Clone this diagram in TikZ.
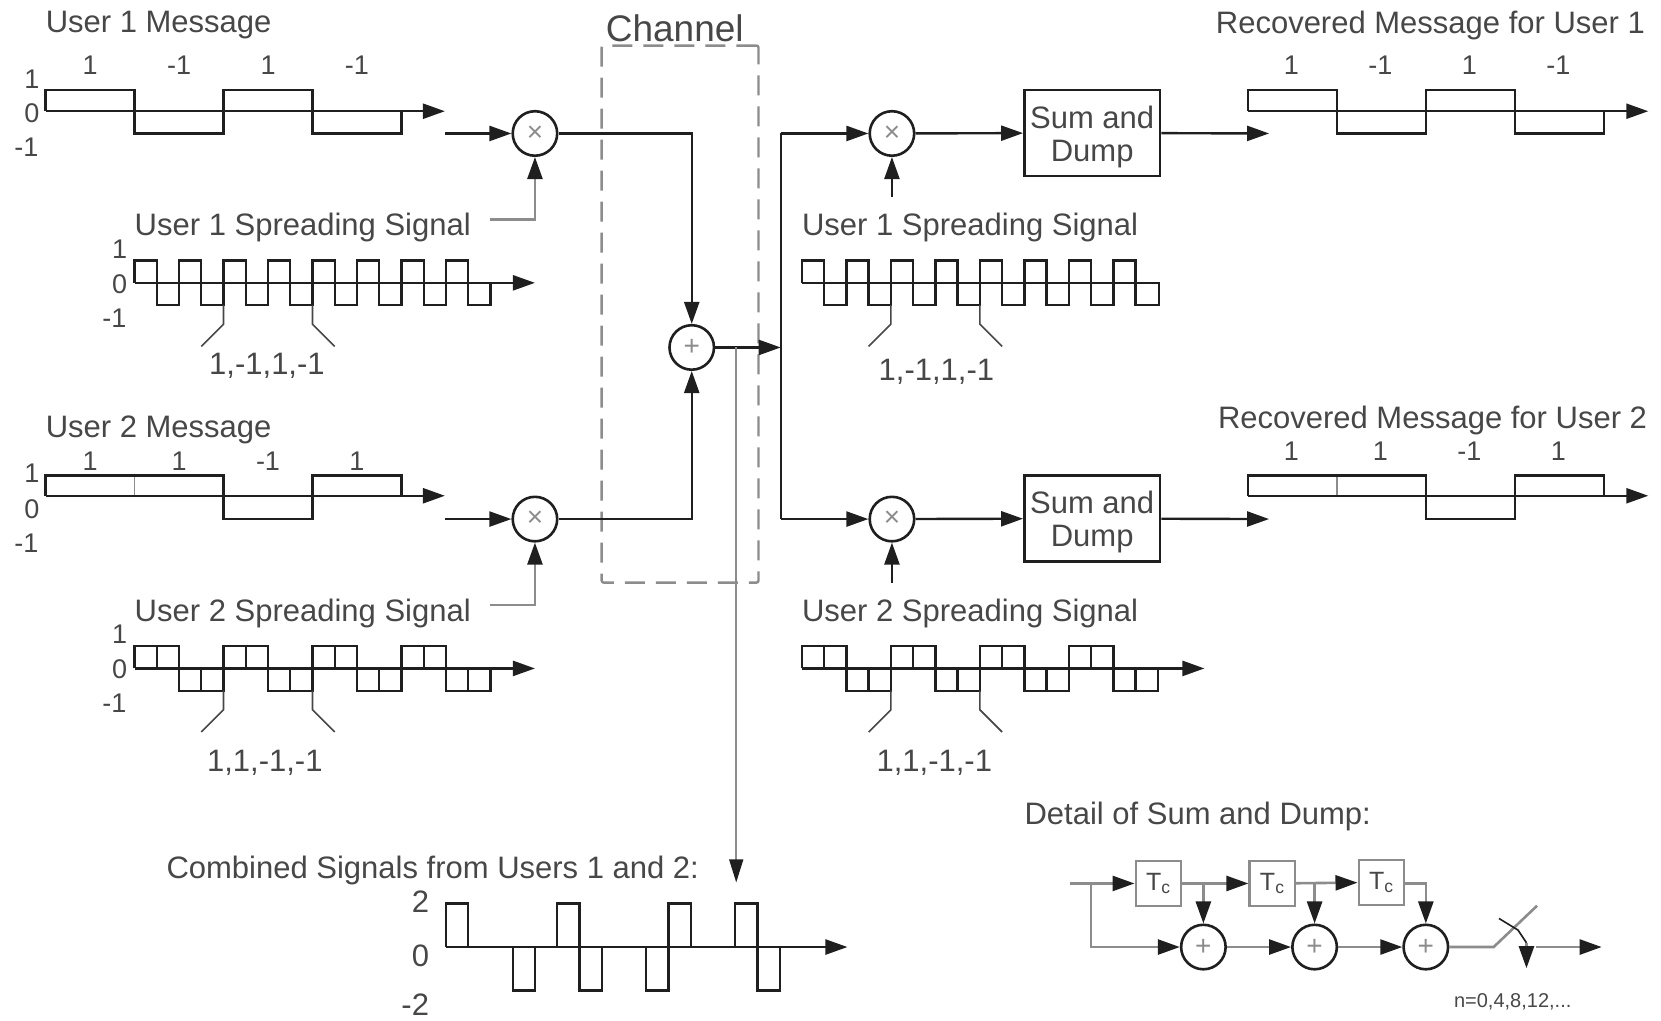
\documentclass[tikz,border=0pt]{standalone}
\usepackage{fontspec}
\setmainfont{Liberation Sans}
\usetikzlibrary{arrows.meta,calc}
\definecolor{ink}{gray}{0.12}
\definecolor{inktext}{gray}{0.28}
\definecolor{soft}{gray}{0.55}

\begin{document}
\begin{tikzpicture}[
    x=1.0593pt, y=-1.0593pt,
    txt/.style={font=\fontsize{31}{35}\selectfont, text=inktext, inner sep=0pt},
    title/.style={txt, anchor=west, yshift=-3pt},
    titler/.style={txt, anchor=east, yshift=-3pt},
    bits/.style={txt, yshift=-2pt},
    tick/.style={txt, font=\fontsize{27}{30}\selectfont},
    mixer/.style={circle, draw=ink, line width=2.6pt, fill=white, minimum size=44.5pt, inner sep=0pt, text=soft, font=\fontsize{28}{28}\selectfont},
    sumbox/.style={rectangle, draw=ink, line width=2.6pt, minimum width=135.6pt, minimum height=85.8pt, align=center, inner sep=0pt, text=inktext, font=\fontsize{31}{33}\selectfont},
    delaybox/.style={rectangle, draw=soft, line width=2.2pt, fill=white, minimum width=45.5pt, minimum height=45pt, inner sep=0pt, text=inktext, font=\fontsize{25}{25}\selectfont},
    arrow/.style={-{Triangle[length=22pt, width=15pt, ink]}, draw=ink, line width=2.4pt},
    softarrow/.style={-{Triangle[length=22pt, width=15pt, ink]}, draw=soft, line width=2.6pt},
    wave/.style={draw=ink, line width=2.3pt, line join=miter},
    divider/.style={draw=soft, line width=1.8pt},
    pointer/.style={draw=inktext, line width=1.6pt},
]

% ====== Channel ======
\node[txt, font=\fontsize{37}{40}\selectfont] (chanTitle) at (637, 27) {Channel};
\node[rectangle, draw=soft, line width=2.4pt, dash pattern=on 20pt off 11pt, rounded corners=2pt, minimum width=156.8pt, minimum height=537pt] (chanBox) at (642, 296.5) {};

% ====== User 1 message ======
\node[title] (m1Title) at (43, 21) {User 1 Message};
\node[tick] (m1a) at (85, 62) {1};
\node[tick] (m1b) at (169, 62) {-1};
\node[tick] (m1c) at (253, 62) {1};
\node[tick] (m1d) at (337, 62) {-1};
\node[tick] (m1Hi) at (30, 75) {1};
\node[tick] (m1Zero) at (30, 107) {0};
\node[tick] (m1Lo) at (25, 139) {-1};
\coordinate (m1Start) at (43, 105);
\coordinate (m1End) at (420, 105);
\draw[wave] (43,105) -- (43,85) -- (127,85) -- (127,126) -- (211,126) -- (211,85) -- (295,85) -- (295,126) -- (379,126) -- (379,105);
\draw[arrow] (m1Start) -- (m1End);

% ====== User 1 spreading signal ======
\node[title] (s1Title) at (127, 212) {User 1 Spreading Signal};
\node[tick] (s1Hi) at (113, 235) {1};
\node[tick] (s1Zero) at (113, 268) {0};
\node[tick] (s1Lo) at (108, 300) {-1};
\coordinate (s1Start) at (127, 267);
\coordinate (s1End) at (505, 267);
\draw[wave] (127,267) -- (127,246) -- (148,246) -- (148,288) -- (169,288) -- (169,246) -- (190,246) -- (190,288) -- (211,288) -- (211,246) -- (232,246) -- (232,288) -- (253,288) -- (253,246) -- (274,246) -- (274,288) -- (295,288) -- (295,246) -- (316,246) -- (316,288) -- (337,288) -- (337,246) -- (358,246) -- (358,288) -- (379,288) -- (379,246) -- (400,246) -- (400,288) -- (421,288) -- (421,246) -- (442,246) -- (442,288) -- (463,288) -- (463,267);
\draw[arrow] (s1Start) -- (s1End);
\draw[pointer] (211,288) -- (211,306) -- (190,327);
\draw[pointer] (295,288) -- (295,306) -- (316,327);
\node[bits] (s1Bits) at (252, 343) {1,-1,1,-1};

% ====== User 2 message ======
\node[title] (m2Title) at (43, 403) {User 2 Message};
\node[tick] (m2a) at (85, 435) {1};
\node[tick] (m2b) at (169, 435) {1};
\node[tick] (m2c) at (253, 435) {-1};
\node[tick] (m2d) at (337, 435) {1};
\node[tick] (m2Hi) at (30, 447) {1};
\node[tick] (m2Zero) at (30, 481) {0};
\node[tick] (m2Lo) at (25, 513) {-1};
\coordinate (m2Start) at (43, 468);
\coordinate (m2End) at (420, 468);
\draw[divider] (127,449) -- (127,468);
\draw[wave] (43,468) -- (43,449) -- (211,449) -- (211,490) -- (295,490) -- (295,449) -- (379,449) -- (379,468);
\draw[arrow] (m2Start) -- (m2End);

% ====== User 2 spreading signal ======
\node[title] (s2Title) at (127, 576) {User 2 Spreading Signal};
\node[tick] (s2Hi) at (113, 599) {1};
\node[tick] (s2Zero) at (113, 632) {0};
\node[tick] (s2Lo) at (108, 664) {-1};
\coordinate (s2Start) at (127, 631);
\coordinate (s2End) at (505, 631);
\draw[wave] (148,610) -- (148,631) (190,631) -- (190,652) (232,610) -- (232,631) (274,631) -- (274,652) (316,610) -- (316,631) (358,631) -- (358,652) (400,610) -- (400,631) (442,631) -- (442,652);
\draw[wave] (127,631) -- (127,610) -- (169,610) -- (169,652) -- (211,652) -- (211,610) -- (253,610) -- (253,652) -- (295,652) -- (295,610) -- (337,610) -- (337,652) -- (379,652) -- (379,610) -- (421,610) -- (421,652) -- (463,652) -- (463,631);
\draw[arrow] (s2Start) -- (s2End);
\draw[pointer] (211,652) -- (211,670) -- (190,691);
\draw[pointer] (295,652) -- (295,670) -- (316,691);
\node[bits] (s2Bits) at (250, 718) {1,1,-1,-1};

% ====== Transmit mixers and adder ======
\node[mixer] (txMix1) at (505, 126) {×};
\node[mixer] (txMix2) at (505, 490) {×};
\node[mixer] (adder) at (653, 328) {+};
\coordinate (tx1In) at (420, 126);
\coordinate (tx2In) at (420, 490);
\coordinate (s1Tap) at (463, 207);
\coordinate (s2Tap) at (463, 571);
\coordinate (rxBus) at (737, 328);
\coordinate (rxBusTop) at (737, 126);
\coordinate (rxBusLow) at (737, 490);
\draw[arrow] (tx1In) -- (txMix1);
\draw[arrow] (tx2In) -- (txMix2);
\draw[softarrow] (s1Tap) -| (txMix1);
\draw[softarrow] (s2Tap) -| (txMix2);
\draw[arrow] (txMix1) -| (adder);
\draw[arrow] (txMix2) -| (adder);
\draw[arrow] (adder) -- (rxBus);

% ====== Receiver, user 1 ======
\node[mixer] (rxMix1) at (842, 126) {×};
\node[sumbox] (sum1) at (1031, 125.5) {\rule{0pt}{30pt}Sum and\\Dump};
\coordinate (rx1Sig) at (842, 186);
\coordinate (rec1In) at (1198, 126);
\draw[ink, line width=2.4pt] (rxBusTop) -- (rxBusLow);
\draw[arrow] (rxBusTop) -- (rxMix1);
\draw[arrow] (rx1Sig) -- (rxMix1);
\draw[arrow] (rxMix1) -- (sum1);
\draw[arrow] (sum1) -- (rec1In);
\node[title] (r1Title) at (757, 212) {User 1 Spreading Signal};
\draw[wave] (757,267) -- (757,246) -- (778,246) -- (778,288) -- (799,288) -- (799,246) -- (820,246) -- (820,288) -- (841,288) -- (841,246) -- (862,246) -- (862,288) -- (883,288) -- (883,246) -- (904,246) -- (904,288) -- (925,288) -- (925,246) -- (946,246) -- (946,288) -- (967,288) -- (967,246) -- (988,246) -- (988,288) -- (1009,288) -- (1009,246) -- (1030,246) -- (1030,288) -- (1051,288) -- (1051,246) -- (1072,246) -- (1072,288) -- (1094,288) -- (1094,267) -- (757,267);
\draw[pointer] (841,288) -- (841,306) -- (820,327);
\draw[pointer] (925,288) -- (925,306) -- (946,327);
\node[bits] (r1Bits) at (884, 349) {1,-1,1,-1};

% ====== Receiver, user 2 ======
\node[mixer] (rxMix2) at (842, 490) {×};
\node[sumbox] (sum2) at (1031, 489.5) {\rule{0pt}{30pt}Sum and\\Dump};
\coordinate (rx2Sig) at (842, 550);
\coordinate (rec2In) at (1198, 490);
\coordinate (r2Start) at (757, 631);
\coordinate (r2End) at (1137, 631);
\draw[arrow] (rxBusLow) -- (rxMix2);
\draw[arrow] (rx2Sig) -- (rxMix2);
\draw[arrow] (rxMix2) -- (sum2);
\draw[arrow] (sum2) -- (rec2In);
\node[title] (r2Title) at (757, 576) {User 2 Spreading Signal};
\draw[wave] (778,610) -- (778,631) (820,631) -- (820,652) (862,610) -- (862,631) (904,631) -- (904,652) (946,610) -- (946,631) (988,631) -- (988,652) (1030,610) -- (1030,631) (1072,631) -- (1072,652);
\draw[wave] (757,631) -- (757,610) -- (799,610) -- (799,652) -- (841,652) -- (841,610) -- (883,610) -- (883,652) -- (925,652) -- (925,610) -- (967,610) -- (967,652) -- (1009,652) -- (1009,610) -- (1051,610) -- (1051,652) -- (1093,652) -- (1093,631);
\draw[arrow] (r2Start) -- (r2End);
\draw[pointer] (841,652) -- (841,670) -- (820,691);
\draw[pointer] (925,652) -- (925,670) -- (946,691);
\node[bits] (r2Bits) at (882, 718) {1,1,-1,-1};

% ====== Recovered messages ======
\node[titler] (o1Title) at (1553, 21) {Recovered Message for User 1};
\node[tick] (o1a) at (1219, 62) {1};
\node[tick] (o1b) at (1303, 62) {-1};
\node[tick] (o1c) at (1387, 62) {1};
\node[tick] (o1d) at (1471, 62) {-1};
\coordinate (o1Start) at (1178, 105);
\coordinate (o1End) at (1556, 105);
\draw[wave] (1178,105) -- (1178,85) -- (1262,85) -- (1262,126) -- (1346,126) -- (1346,85) -- (1430,85) -- (1430,126) -- (1514,126) -- (1514,105);
\draw[arrow] (o1Start) -- (o1End);

\node[titler] (o2Title) at (1555, 394) {Recovered Message for User 2};
\node[tick] (o2a) at (1219, 426) {1};
\node[tick] (o2b) at (1303, 426) {1};
\node[tick] (o2c) at (1387, 426) {-1};
\node[tick] (o2d) at (1471, 426) {1};
\coordinate (o2Start) at (1178, 468);
\coordinate (o2End) at (1556, 468);
\draw[divider] (1262,449) -- (1262,468);
\draw[wave] (1178,468) -- (1178,449) -- (1346,449) -- (1346,490) -- (1430,490) -- (1430,449) -- (1514,449) -- (1514,468);
\draw[arrow] (o2Start) -- (o2End);

% ====== Combined signal ======
\coordinate (tapTop) at (695, 328);
\coordinate (tapEnd) at (695, 833);
\draw[-{Triangle[length=23pt, width=14pt, ink]}, draw=soft, line width=1.5pt] (tapTop) -- (tapEnd);
\node[title] (cTitle) at (157, 819) {Combined Signals from Users 1 and 2:};
\node[txt] (cHi) at (397, 851) {2};
\node[txt] (cZero) at (397, 902) {0};
\node[txt] (cLo) at (392, 948) {-2};
\coordinate (cStart) at (421, 894);
\coordinate (cEnd) at (800, 894);
\draw[wave] (421,894) -- (421,853) -- (442,853) -- (442,894);
\draw[wave] (484,894) -- (484,935) -- (505,935) -- (505,894);
\draw[wave] (526,894) -- (526,853) -- (547,853) -- (547,935) -- (568,935) -- (568,894);
\draw[wave] (610,894) -- (610,935) -- (631,935) -- (631,853) -- (652,853) -- (652,894);
\draw[wave] (694,894) -- (694,853) -- (715,853) -- (715,935) -- (736,935) -- (736,894);
\draw[arrow] (cStart) -- (cEnd);

% ====== Detail of sum and dump ======
\node[title] (dTitle) at (967, 768) {Detail of Sum and Dump:};
\node[delaybox] (tc1) at (1093.5, 834) {T\textsubscript{c}};
\node[delaybox] (tc2) at (1201, 834) {T\textsubscript{c}};
\node[delaybox] (tc3) at (1304, 833) {T\textsubscript{c}};
\node[mixer, draw=ink] (add1) at (1136, 894) {+};
\node[mixer, draw=ink] (add2) at (1241, 894) {+};
\node[mixer, draw=ink] (add3) at (1346, 894) {+};
\coordinate (dIn) at (1010, 834);
\coordinate (dFork) at (1030, 834);
\coordinate (dTap1) at (1136, 834);
\coordinate (dTap2) at (1241, 834);
\coordinate (dTap3) at (1346, 834);
\coordinate (swA) at (1410, 894);
\coordinate (swB) at (1451, 855);
\coordinate (dOutA) at (1450, 894);
\coordinate (dOutB) at (1512, 894);
\coordinate (cmA) at (1415, 867);
\coordinate (cmB) at (1433, 878);
\coordinate (cmC) at (1441, 890);
\coordinate (cmD) at (1441, 914);
\draw[draw=soft, line width=2.6pt] (dIn) -- (dFork);
\draw[softarrow] (dFork) -- (tc1);
\draw[softarrow] (tc1) -- (tc2);
\draw[softarrow] (tc2) -- (tc3);
\draw[softarrow] (dFork) |- (add1);
\draw[softarrow] (dTap1) -- (add1);
\draw[softarrow] (dTap2) -- (add2);
\draw[softarrow] (tc3.east |- dTap3) -| (add3);
\draw[softarrow] (add1) -- (add2);
\draw[softarrow] (add2) -- (add3);
\draw[draw=soft, line width=2.6pt] (add3) -- (swA) -- (swB);
\draw[draw=ink, line width=1.6pt] (cmA) -- (cmB) -- (cmC);
\draw[softarrow] (cmC) -- (cmD);
\draw[softarrow] (dOutA) -- (dOutB);
\node[txt, font=\fontsize{20}{22}\selectfont] (dSample) at (1428, 946) {n=0,4,8,12,...};

\useasboundingbox (0,0) rectangle (1568,963);
\end{tikzpicture}
\end{document}
